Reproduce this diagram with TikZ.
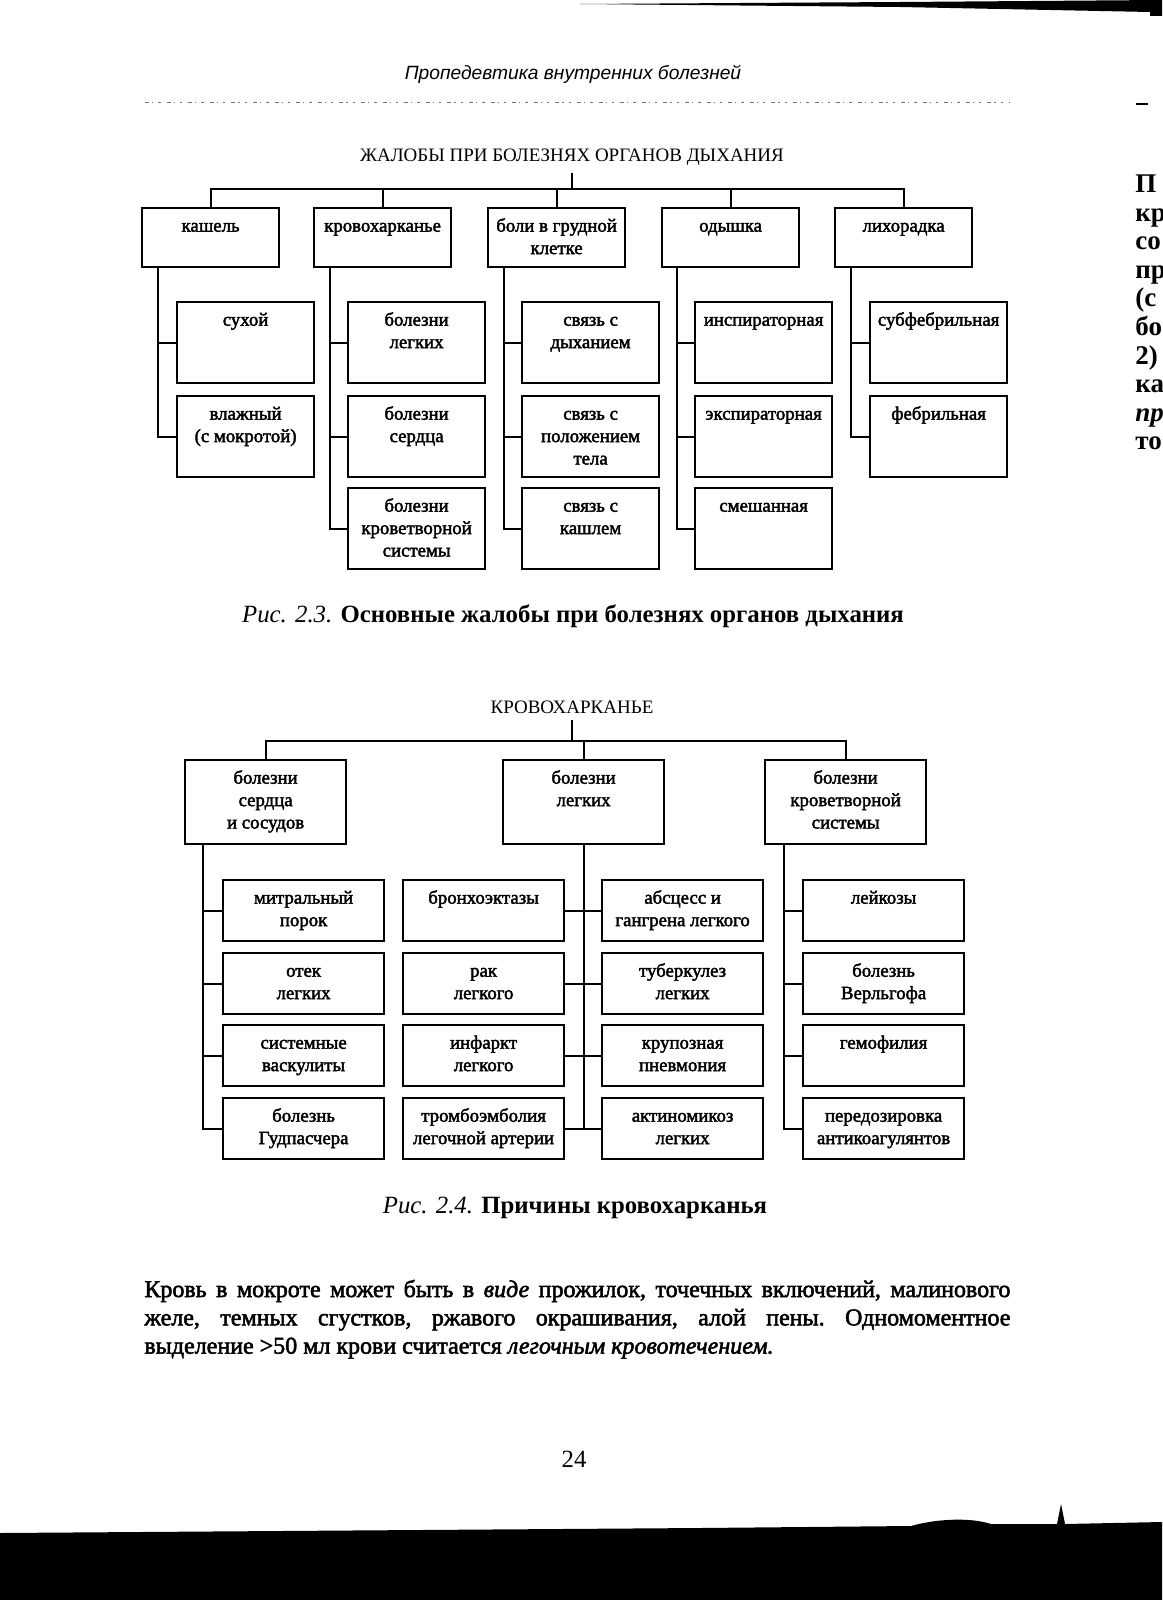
\documentclass[tikz,border=0pt]{standalone}
\usepackage{fontspec}
\setmainfont{Liberation Serif}
\newfontfamily\hdrfont{Liberation Sans}
\newfontfamily\scanfont{Liberation Serif}[FakeBold=2.2]
\usetikzlibrary{positioning}

% box text: top aligned, fixed size
\newcommand{\cell}[3]{\begin{minipage}[t][#2][t]{#1}\centering\rule{0pt}{11.8pt}#3\end{minipage}}
\newcommand{\headA}[1]{\cell{68.5pt}{29.5pt}{#1}}
\newcommand{\subA}[1]{\cell{68.5pt}{40.5pt}{#1}}
\newcommand{\headB}[1]{\cell{80.5pt}{42pt}{#1}}
\newcommand{\subB}[1]{\cell{80.5pt}{30.5pt}{#1}}

\begin{document}
\begin{tikzpicture}[x=0.5pt,y=-0.5pt,
  box/.style={draw, line width=1.1pt, inner sep=0pt, anchor=north west,
    font=\scanfont\fontsize{9.4}{11.2}\selectfont},
  link/.style={line width=1.1pt},
  heading/.style={anchor=base, font=\fontsize{9.5}{12}\selectfont},
  caption/.style={anchor=base, inner sep=0pt, font=\fontsize{12.4}{14}\selectfont},
  frag/.style={anchor=base west, inner sep=0pt, font=\bfseries\fontsize{13.5}{14}\selectfont}]
\useasboundingbox (0,0) rectangle (1162,1600);

% page header
\fill (580,4) -- (900,2) -- (1162,0) -- (1162,16) -- (1150,16) -- (1150,12) -- (900,7) -- cycle;
\node[anchor=base, inner sep=0pt, font=\hdrfont\itshape\fontsize{9.6}{12}\selectfont] (hdr) at (573,80) {Пропедевтика внутренних болезней};
\draw[black!55, line width=0.4pt, dash pattern=on 2pt off 1.5pt on 0.6pt off 2.5pt on 1.2pt off 3pt] (145,102) -- (1010,102);
\draw[line width=1pt] (1136,104) -- (1148,104);

% fragments of the facing page
\node[frag] (f1) at (1135,192) {П};
\node[frag] (f2) at (1135,221) {кр};
\node[frag] (f3) at (1135,249) {со};
\node[frag] (f4) at (1135,278) {пр};
\node[frag] (f5) at (1135,306) {(с};
\node[frag] (f6) at (1135,335) {бо};
\node[frag] (f7) at (1135,364) {2)};
\node[frag] (f8) at (1135,392) {ка};
\node[frag] (f9) at (1135,421) {\itshape пр};
\node[frag] (f10) at (1135,449) {то};

% ---- Fig. 2.3 ----
\node[heading] (t1) at (572,162) {ЖАЛОБЫ ПРИ БОЛЕЗНЯХ ОРГАНОВ ДЫХАНИЯ};
\coordinate (hub1) at (572,189);

\node[box] (kash) at (141,207) {\headA{кашель}};
\node[box] (krov) at (313,207) {\headA{кровохарканье}};
\node[box] (boli) at (487,207) {\headA{боли в грудной\\клетке}};
\node[box] (odysh) at (661,207) {\headA{одышка}};
\node[box] (likh) at (834,207) {\headA{лихорадка}};

\node[box] (suh) at (176,301) {\subA{сухой}};
\node[box] (vlazh) at (176,395) {\subA{влажный\\(с мокротой)}};

\node[box] (bleg) at (347,301) {\subA{болезни\\легких}};
\node[box] (bserd) at (347,395) {\subA{болезни\\сердца}};
\node[box] (bkrov) at (347,487) {\subA{болезни\\кроветворной\\системы}};

\node[box] (sdyh) at (521,301) {\subA{связь с\\дыханием}};
\node[box] (spol) at (521,395) {\subA{связь с\\положением\\тела}};
\node[box] (skash) at (521,487) {\subA{связь с\\кашлем}};

\node[box] (insp) at (694,301) {\subA{инспираторная}};
\node[box] (eksp) at (694,395) {\subA{экспираторная}};
\node[box] (smesh) at (694,487) {\subA{смешанная}};

\node[box] (subf) at (869,301) {\subA{субфебрильная}};
\node[box] (febr) at (869,395) {\subA{фебрильная}};

\draw[link] (t1.south) -- (hub1);
\draw[link] (kash.north) |- (hub1);
\draw[link] (krov.north) |- (hub1);
\draw[link] (boli.north) |- (hub1);
\draw[link] (odysh.north) |- (hub1);
\draw[link] (likh.north) |- (hub1);

\coordinate (sp1) at ([xshift=8.5pt]kash.south west);
\coordinate (sp2) at ([xshift=8.5pt]krov.south west);
\coordinate (sp3) at ([xshift=8.5pt]boli.south west);
\coordinate (sp4) at ([xshift=8pt]odysh.south west);
\coordinate (sp5) at ([xshift=8.5pt]likh.south west);

\draw[link] (sp1) |- (vlazh.west) (sp1 |- suh.west) -- (suh.west);
\draw[link] (sp2) |- (bkrov.west) (sp2 |- bleg.west) -- (bleg.west) (sp2 |- bserd.west) -- (bserd.west);
\draw[link] (sp3) |- (skash.west) (sp3 |- sdyh.west) -- (sdyh.west) (sp3 |- spol.west) -- (spol.west);
\draw[link] (sp4) |- (smesh.west) (sp4 |- insp.west) -- (insp.west) (sp4 |- eksp.west) -- (eksp.west);
\draw[link] (sp5) |- (febr.west) (sp5 |- subf.west) -- (subf.west);

\node[caption] (cap1) at (573,622) {\textit{Рис. 2.3.} \textbf{Основные жалобы при болезнях органов дыхания}};

% ---- Fig. 2.4 ----
\node[heading] (t2) at (572,713) {КРОВОХАРКАНЬЕ};
\coordinate (hub2) at (572,741);

\node[box] (serd) at (184,759) {\headB{болезни\\сердца\\и сосудов}};
\node[box] (legk) at (502,759) {\headB{болезни\\легких}};
\node[box] (krovet) at (764,759) {\headB{болезни\\кроветворной\\системы}};

\node[box] (mitr) at (222,879) {\subB{митральный\\порок}};
\node[box] (otek) at (222,952) {\subB{отек\\легких}};
\node[box] (vask) at (222,1024) {\subB{системные\\васкулиты}};
\node[box] (gudp) at (222,1097) {\subB{болезнь\\Гудпасчера}};

\node[box] (bronh) at (402,879) {\subB{бронхоэктазы}};
\node[box] (rak) at (402,952) {\subB{рак\\легкого}};
\node[box] (infark) at (402,1024) {\subB{инфаркт\\легкого}};
\node[box] (tromb) at (402,1097) {\subB{тромбоэмболия\\легочной артерии}};

\node[box] (absc) at (601,879) {\subB{абсцесс и\\гангрена легкого}};
\node[box] (tuber) at (601,952) {\subB{туберкулез\\легких}};
\node[box] (krup) at (601,1024) {\subB{крупозная\\пневмония}};
\node[box] (aktin) at (601,1097) {\subB{актиномикоз\\легких}};

\node[box] (leik) at (802,879) {\subB{лейкозы}};
\node[box] (verl) at (802,952) {\subB{болезнь\\Верльгофа}};
\node[box] (gemof) at (802,1024) {\subB{гемофилия}};
\node[box] (pered) at (802,1097) {\subB{передозировка\\антикоагулянтов}};

\draw[link] (t2.south) -- (hub2);
\draw[link] (serd.north) |- (hub2);
\draw[link] (legk.north) |- (hub2);
\draw[link] (krovet.north) |- (hub2);

\coordinate (sq1) at ([xshift=9.5pt]serd.south west);
\coordinate (sq3) at ([xshift=10pt]krovet.south west);

\draw[link] (sq1) |- (gudp.west) (sq1 |- mitr.west) -- (mitr.west)
  (sq1 |- otek.west) -- (otek.west) (sq1 |- vask.west) -- (vask.west);
\draw[link] (legk.south) -- (legk.south |- aktin.west);
\draw[link] (bronh.east) -- (absc.west);
\draw[link] (rak.east) -- (tuber.west);
\draw[link] (infark.east) -- (krup.west);
\draw[link] (tromb.east) -- (aktin.west);
\draw[link] (sq3) |- (pered.west) (sq3 |- leik.west) -- (leik.west)
  (sq3 |- verl.west) -- (verl.west) (sq3 |- gemof.west) -- (gemof.west);

\node[caption] (cap2) at (575,1213) {\textit{Рис. 2.4.} \textbf{Причины кровохарканья}};

% body text
\node[anchor=base west, inner sep=0pt, text width=433pt, align=justify,
  font=\scanfont\fontsize{12}{14.15}\selectfont] (para) at (144,1297)
  {\frenchspacing\hyphenpenalty=10000 Кровь в мокроте может быть в \textit{виде} прожилок, точечных включений, малинового\linebreak
   желе, темных сгустков, ржавого окрашивания, алой пены. Одномоментное\linebreak
   выделение >50 мл крови считается \textit{легочным кровотечением.}};

\node[caption] (pnum) at (574,1467) {24};

% dark band of the scan
\fill (0,1533) -- (700,1528) -- (911,1526) .. controls (935,1519) and (970,1517) .. (991,1524)
  -- (1057,1524) -- (1061,1504) -- (1065,1524) -- (1162,1522) -- (1162,1600) -- (0,1600) -- cycle;
\end{tikzpicture}
\end{document}
